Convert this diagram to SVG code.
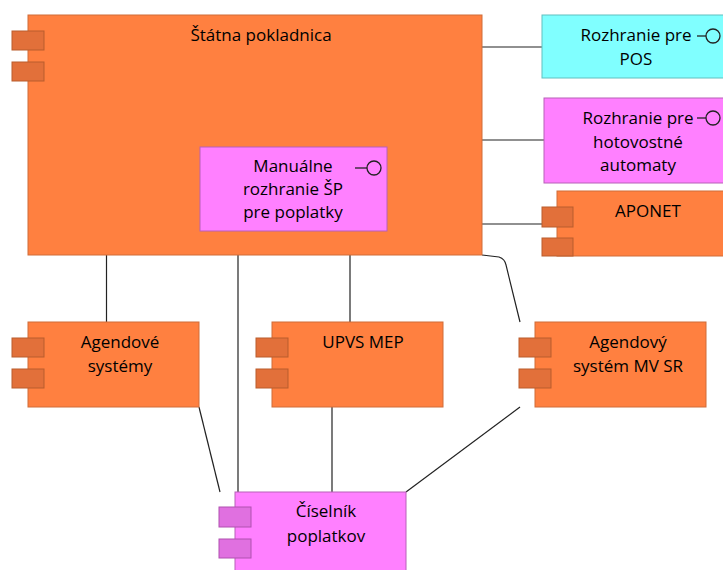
<svg xmlns="http://www.w3.org/2000/svg" width="723" height="570" viewBox="0 0 723 570">
<style>
text{font-family:"Open Sans","Liberation Sans",sans-serif;font-size:17px;fill:#000;text-anchor:middle}
.or{fill:#FF8040;stroke:#D06C38;stroke-width:1}
.orp{fill:#E2703A;stroke:#B95C2C;stroke-width:1}
.mg{fill:#FF80FF;stroke:#B860B8;stroke-width:1}
.mgp{fill:#E070E0;stroke:#B050B0;stroke-width:1}
.cy{fill:#80FFFF;stroke:#60C0C0;stroke-width:1}
.ifc{fill:none;stroke:#222;stroke-width:1.3}
.c{fill:none;stroke:#222;stroke-width:1.2}
</style>
<rect width="723" height="570" fill="#fff"/>
<g id="connectors">
<line class="c" x1="482" y1="47" x2="542" y2="47"/>
<line class="c" x1="482" y1="140" x2="544" y2="140"/>
<line class="c" x1="482" y1="224" x2="542" y2="224"/>
<path class="c" d="M482,255 L499,257 Q505,259 506,265 L520,322"/>
<line class="c" x1="106.5" y1="255" x2="106.5" y2="322"/>
<line class="c" x1="238" y1="255" x2="238" y2="492"/>
<line class="c" x1="350" y1="255" x2="350" y2="322"/>
<line class="c" x1="199" y1="407" x2="220" y2="492"/>
<line class="c" x1="332" y1="407" x2="332" y2="492"/>
<line class="c" x1="520" y1="407" x2="406" y2="492"/>
</g>
<g id="statna-pokladnica">
<rect class="or" x="28" y="15" width="454" height="240"/>
<rect class="orp" x="12" y="31" width="32" height="19"/>
<rect class="orp" x="12" y="62" width="32" height="19"/>
<text x="261" y="41">Štátna pokladnica</text>
</g>
<g id="manualne-rozhranie">
<rect class="mg" x="200" y="147" width="187" height="84"/>
<text x="293" y="172">Manuálne</text>
<text x="293" y="195">rozhranie ŠP</text>
<text x="293" y="218">pre poplatky</text>
<line class="ifc" x1="355" y1="168" x2="367" y2="168"/>
<circle class="ifc" cx="374" cy="168" r="7"/>
</g>
<g id="rozhranie-pos">
<rect class="cy" x="542" y="15" width="190" height="63"/>
<text x="636" y="41">Rozhranie pre</text>
<text x="636" y="65">POS</text>
<line class="ifc" x1="697" y1="36" x2="706" y2="36"/>
<circle class="ifc" cx="713" cy="36" r="7"/>
</g>
<g id="rozhranie-hotovostne">
<rect class="mg" x="544" y="98" width="190" height="85"/>
<text x="638" y="124">Rozhranie pre</text>
<text x="638" y="148">hotovostné</text>
<text x="638" y="171">automaty</text>
<line class="ifc" x1="697" y1="118" x2="706" y2="118"/>
<circle class="ifc" cx="713" cy="118" r="7"/>
</g>
<g id="aponet">
<rect class="or" x="557" y="191" width="175" height="65"/>
<rect class="orp" x="542" y="207" width="31" height="20"/>
<rect class="orp" x="542" y="238" width="31" height="18"/>
<text x="648" y="217">APONET</text>
</g>
<g id="agendove-systemy">
<rect class="or" x="28" y="322" width="171" height="85"/>
<rect class="orp" x="12" y="338" width="32" height="19"/>
<rect class="orp" x="12" y="369" width="32" height="19"/>
<text x="120" y="348">Agendové</text>
<text x="120" y="372">systémy</text>
</g>
<g id="upvs-mep">
<rect class="or" x="272" y="322" width="171" height="85"/>
<rect class="orp" x="256" y="338" width="32" height="19"/>
<rect class="orp" x="256" y="369" width="32" height="19"/>
<text x="363" y="348">UPVS MEP</text>
</g>
<g id="agendovy-system-mv-sr">
<rect class="or" x="535" y="322" width="171" height="85"/>
<rect class="orp" x="519" y="338" width="32" height="19"/>
<rect class="orp" x="519" y="369" width="32" height="19"/>
<text x="628" y="348">Agendový</text>
<text x="628" y="372">systém MV SR</text>
</g>
<g id="ciselnik-poplatkov">
<rect class="mg" x="235" y="492" width="171" height="90"/>
<rect class="mgp" x="219" y="507" width="32" height="20"/>
<rect class="mgp" x="219" y="539" width="32" height="19"/>
<text x="326" y="517">Číselník</text>
<text x="326" y="542">poplatkov</text>
</g>
</svg>
